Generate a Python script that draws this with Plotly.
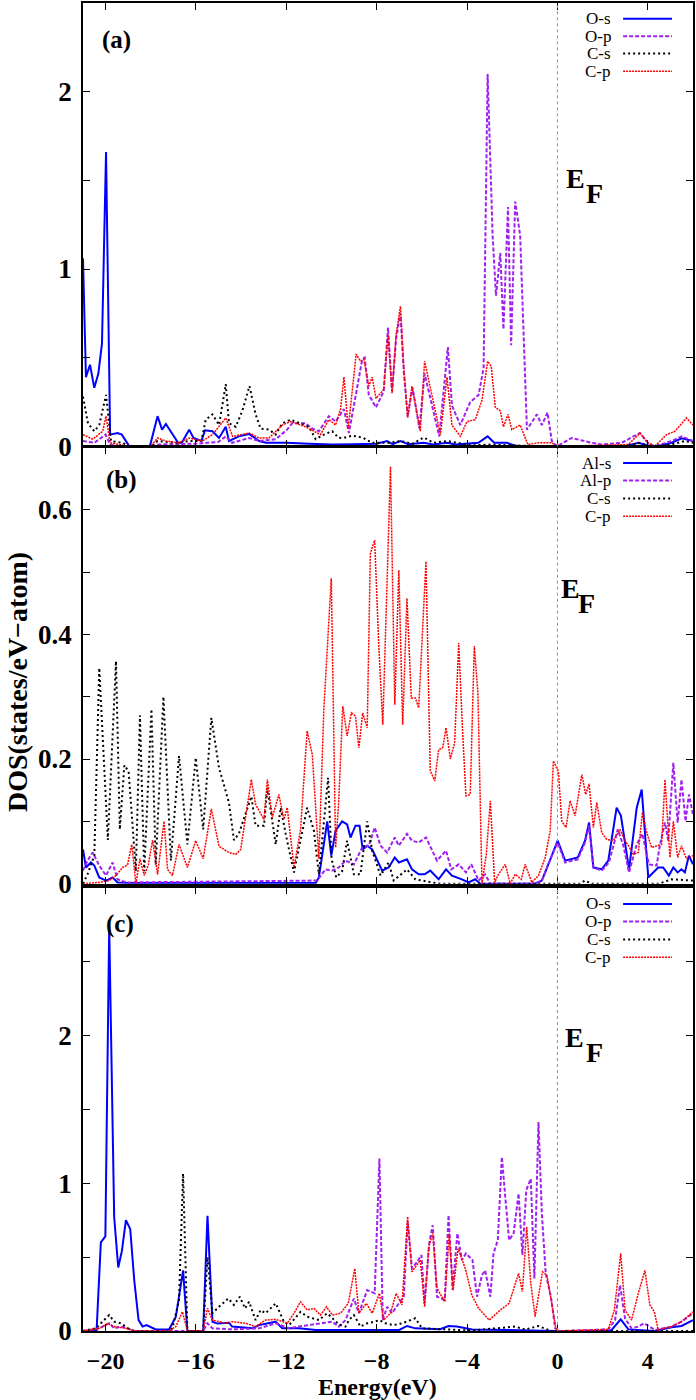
import plotly.graph_objects as go

# ---------------- panel (a): O-s, O-p, C-s, C-p ----------------
a_os_e = [-21.0, -20.87, -20.69, -20.5, -20.32, -20.16, -19.98, -19.8, -19.47, -19.28,
          -18.95, -18.04, -17.7, -17.5, -17.33, -16.79, -16.63, -16.3, -16.11, -15.76,
          -15.6, -15.27, -14.98, -14.68, -14.54, -14.1, -13.65, -13.2, -12.9, -12.0,
          -11.0, -9.97, -9.0, -8.0, -7.54, -7.3, -6.95, -6.6, -5.92, -5.5,
          -4.89, -4.5, -3.5, -3.09, -2.8, -2.6, -2.24, -1.9, -1.5, 0.0,
          3.0, 3.58, 4.0, 4.46, 5.05, 5.5, 6.0]
a_os = [1.06, 0.39, 0.46, 0.33, 0.41, 0.58, 1.66, 0.066, 0.075, 0.066,
        0.0, 0.0, 0.17, 0.094, 0.126, 0.02, 0.02, 0.094, 0.047, 0.03,
        0.09, 0.085, 0.047, 0.11, 0.03, 0.056, 0.07, 0.03, 0.02, 0.02,
        0.015, 0.01, 0.012, 0.015, 0.03, 0.012, 0.03, 0.012, 0.02, 0.01,
        0.02, 0.01, 0.02, 0.056, 0.02, 0.02, 0.02, 0.005, 0.0, 0.0,
        0.0, 0.02, 0.005, 0.0, 0.02, 0.045, 0.03]

a_op_e = [-21.0, -20.5, -20.0, -19.8, -19.5, -18.0, -17.7, -16.0, -15.0, -14.68,
          -14.4, -13.65, -13.2, -12.47, -12.0, -11.74, -11.15, -10.85, -10.56, -10.12,
          -9.82, -9.45, -9.23, -8.94, -8.64, -8.53, -8.35, -8.03, -7.69, -7.5,
          -7.32, -7.14, -6.95, -6.8, -6.63, -6.41, -6.11, -5.88, -5.48, -5.23,
          -4.85, -4.67, -4.3, -3.86, -3.49, -3.27, -3.09, -3.05, -2.87, -2.72,
          -2.53, -2.39, -2.19, -2.05, -1.87, -1.65, -1.35, -0.91, -0.69, -0.44,
          -0.25, -0.03, 0.63, 1.52, 1.96, 2.84, 3.65, 4.0, 4.3, 5.05,
          5.5, 6.0]
a_op = [0.03, 0.02, 0.066, 0.01, 0.0, 0.0, 0.01, 0.015, 0.025, 0.056,
        0.02, 0.047, 0.03, 0.04, 0.09, 0.13, 0.13, 0.10, 0.085, 0.17,
        0.14, 0.21, 0.075, 0.29, 0.49, 0.5, 0.29, 0.22, 0.31, 0.67,
        0.31, 0.61, 0.75, 0.42, 0.17, 0.33, 0.10, 0.41, 0.19, 0.056,
        0.56, 0.23, 0.12, 0.25, 0.29, 0.44, 2.10, 1.94, 1.19, 0.85,
        1.09, 0.66, 1.35, 0.57, 1.38, 1.19, 0.094, 0.18, 0.12, 0.19,
        0.03, 0.0, 0.047, 0.02, 0.01, 0.02, 0.075, 0.02, 0.0, 0.03,
        0.056, 0.03]

a_cs_e = [-21.0, -20.78, -20.5, -20.28, -19.98, -19.76, -19.25, -18.95, -18.0, -17.7,
          -16.9, -16.3, -15.76, -15.57, -15.27, -14.98, -14.68, -14.54, -14.24, -13.95,
          -13.63, -13.36, -13.14, -12.77, -12.47, -12.18, -11.81, -11.44, -11.0, -10.7,
          -10.34, -9.97, -9.68, -9.38, -9.09, -8.64, -8.2, -7.47, -6.95, -6.4,
          -5.92, -5.48, -4.89, -3.78, -3.05, -0.8, 3.0, 3.65, 4.1, 5.05,
          5.64, 6.0]
a_cs = [0.28, 0.13, 0.085, 0.12, 0.29, 0.03, 0.02, 0.0, 0.0, 0.03,
        0.02, 0.03, 0.03, 0.15, 0.18, 0.12, 0.35, 0.13, 0.11, 0.2,
        0.34, 0.18, 0.10, 0.094, 0.066, 0.13, 0.15, 0.13, 0.11, 0.04,
        0.066, 0.085, 0.047, 0.05, 0.06, 0.05, 0.02, 0.02, 0.03, 0.015,
        0.05, 0.02, 0.03, 0.005, 0.01, 0.0, 0.0, 0.02, 0.0, 0.01,
        0.03, 0.02]

a_cp_e = [-21.0, -20.57, -20.13, -19.98, -19.8, -18.95, -18.0, -17.7, -17.33, -16.75,
          -16.3, -15.72, -15.27, -14.68, -14.38, -13.95, -13.65, -13.21, -12.77, -12.18,
          -11.81, -11.15, -10.78, -10.49, -10.12, -9.82, -9.6, -9.45, -9.26, -8.91,
          -8.72, -8.57, -8.35, -8.2, -8.03, -7.69, -7.5, -7.32, -7.14, -6.95,
          -6.8, -6.63, -6.44, -6.07, -5.88, -5.48, -5.18, -4.89, -4.67, -4.3,
          -4.0, -3.64, -3.34, -3.09, -2.93, -2.75, -2.53, -2.39, -2.19, -2.02,
          -1.65, -1.31, -0.84, -0.25, 0.0, 3.14, 3.65, 4.0, 4.3, 4.83,
          5.2, 5.71, 6.0]
a_cp = [0.066, 0.04, 0.085, 0.17, 0.02, 0.0, 0.0, 0.047, 0.03, 0.02,
        0.047, 0.03, 0.066, 0.16, 0.056, 0.066, 0.075, 0.047, 0.047, 0.12,
        0.14, 0.11, 0.085, 0.066, 0.15, 0.12, 0.21, 0.39, 0.10, 0.52,
        0.48, 0.49, 0.34, 0.39, 0.27, 0.32, 0.63, 0.30, 0.63, 0.79,
        0.44, 0.16, 0.34, 0.085, 0.48, 0.25, 0.066, 0.39, 0.12, 0.056,
        0.14, 0.15, 0.26, 0.48, 0.45, 0.22, 0.2, 0.11, 0.18, 0.094,
        0.12, 0.01, 0.02, 0.02, 0.0, 0.01, 0.075, 0.02, 0.0, 0.066,
        0.085, 0.16, 0.12]

# ---------------- panel (b): Al-s, Al-p, C-s, C-p ----------------
b_als_e = [-21.0, -20.87, -20.65, -20.5, -20.28, -19.98, -19.69, -19.47, -19.0, -10.7,
           -10.56, -10.19, -10.01, -9.82, -9.53, -9.31, -9.16, -8.94, -8.76, -8.62,
           -8.42, -8.2, -7.76, -7.47, -7.2, -7.02, -6.66, -6.44, -6.14, -5.88,
           -5.63, -5.26, -4.93, -4.67, -4.23, -3.93, -3.64, -3.42, -1.0, -0.69,
           -0.25, 0.01, 0.34, 0.63, 0.9, 1.22, 1.4, 1.59, 1.96, 2.25,
           2.62, 2.81, 3.17, 3.51, 3.73, 4.02, 4.46, 4.68, 4.93, 5.13,
           5.32, 5.49, 5.64, 5.82, 6.0]
b_als = [0.055, 0.026, 0.034, 0.029, 0.01, 0.005, 0.01, 0.002, 0.001, 0.001,
         0.01, 0.1, 0.045, 0.085, 0.1, 0.095, 0.074, 0.093, 0.093, 0.055,
         0.061, 0.055, 0.021, 0.026, 0.042, 0.034, 0.039, 0.023, 0.015, 0.015,
         0.021, 0.007, 0.023, 0.013, 0.007, 0.002, 0.007, 0.0, 0.0, 0.005,
         0.045, 0.069, 0.037, 0.04, 0.042, 0.069, 0.098, 0.026, 0.023, 0.037,
         0.122, 0.109, 0.023, 0.122, 0.151, 0.01, 0.026, 0.026, 0.013, 0.026,
         0.018, 0.023, 0.018, 0.045, 0.031]

b_alp_e = [-21.0, -20.8, -20.57, -20.28, -19.98, -19.69, -19.47, -19.1, -10.63, -10.27,
           -9.97, -9.68, -9.38, -9.01, -8.64, -8.35, -8.09, -7.83, -7.54, -7.2,
           -7.02, -6.66, -6.44, -6.14, -5.82, -5.55, -5.33, -4.93, -4.7, -4.37,
           -4.05, -3.81, -3.49, -3.2, -2.97, -1.0, -0.69, -0.25, 0.01, 0.34,
           0.63, 0.9, 1.22, 1.4, 1.59, 1.96, 2.28, 2.67, 2.92, 3.17,
           3.51, 3.76, 4.05, 4.39, 4.54, 4.76, 4.9, 5.13, 5.32, 5.49,
           5.67, 5.82, 6.0]
b_alp = [0.021, 0.037, 0.05, 0.029, 0.013, 0.034, 0.007, 0.002, 0.005, 0.023,
         0.021, 0.026, 0.037, 0.031, 0.058, 0.061, 0.09, 0.061, 0.05, 0.074,
         0.061, 0.08, 0.069, 0.066, 0.074, 0.053, 0.037, 0.053, 0.023, 0.031,
         0.018, 0.031, 0.005, 0.015, 0.0, 0.0, 0.005, 0.045, 0.066, 0.034,
         0.037, 0.039, 0.066, 0.093, 0.026, 0.021, 0.034, 0.087, 0.061, 0.018,
         0.063, 0.08, 0.031, 0.029, 0.063, 0.098, 0.069, 0.194, 0.098, 0.167,
         0.1, 0.143, 0.111]

b_cs_e = [-21.0, -20.8, -20.5, -20.28, -19.9, -19.54, -19.37, -19.17, -18.98, -18.66,
          -18.48, -18.29, -17.97, -17.78, -17.44, -17.11, -16.75, -16.38, -16.01, -15.68,
          -15.32, -14.98, -14.54, -14.32, -14.1, -13.55, -13.36, -12.99, -12.84, -12.47,
          -12.25, -12.03, -11.66, -11.08, -10.78, -10.56, -10.15, -10.0, -9.79, -9.53,
          -9.31, -9.01, -8.72, -8.42, -8.2, -7.83, -7.47, -7.25, -6.66, -6.29,
          -5.55, -5.2, 1.0, 1.22, 1.5, 4.5, 5.05, 6.0]
b_cs = [0.0, 0.015, 0.045, 0.346, 0.07, 0.357, 0.087, 0.19, 0.18, 0.02,
        0.27, 0.02, 0.28, 0.03, 0.30, 0.037, 0.205, 0.063, 0.202, 0.087,
        0.266, 0.186, 0.13, 0.07, 0.08, 0.14, 0.093, 0.093, 0.154, 0.063,
        0.122, 0.08, 0.018, 0.122, 0.085, 0.015, 0.17, 0.04, 0.01, 0.02,
        0.069, 0.015, 0.015, 0.1, 0.053, 0.013, 0.034, 0.005, 0.023, 0.007,
        0.002, 0.0, 0.0, 0.005, 0.0, 0.0, 0.007, 0.005]

b_cp_e = [-21.0, -20.28, -19.84, -19.54, -19.25, -19.03, -18.84, -18.66, -18.48, -18.29,
          -18.11, -17.92, -17.7, -17.41, -17.26, -17.04, -16.75, -16.38, -16.01, -15.68,
          -15.32, -14.98, -14.54, -14.24, -14.02, -13.55, -13.36, -12.99, -12.84, -12.62,
          -12.33, -12.11, -11.96, -11.66, -11.37, -11.08, -10.85, -10.56, -10.34, -10.01,
          -9.82, -9.68, -9.5, -9.31, -9.12, -8.94, -8.79, -8.62, -8.42, -8.28,
          -8.09, -7.91, -7.73, -7.39, -7.2, -7.02, -6.85, -6.66, -6.47, -6.29,
          -6.14, -5.82, -5.63, -5.43, -5.26, -5.08, -4.93, -4.74, -4.55, -4.37,
          -4.2, -4.05, -3.86, -3.68, -3.52, -3.34, -3.15, -2.97, -2.78, -2.61,
          -2.31, -2.09, -1.87, -1.6, -1.43, -1.13, -0.84, -0.54, -0.32, -0.18,
          0.04, 0.19, 0.38, 0.56, 0.78, 1.08, 1.25, 1.4, 1.59, 1.74,
          1.96, 2.18, 2.47, 2.77, 2.99, 3.14, 3.36, 3.58, 3.76, 3.95,
          4.17, 4.39, 4.61, 4.76, 4.98, 5.13, 5.32, 5.49, 5.71, 6.0]
b_cp = [0.0, 0.002, 0.005, 0.013, 0.026, 0.03, 0.063, 0.0, 0.04, 0.013,
        0.03, 0.07, 0.015, 0.1, 0.023, 0.013, 0.063, 0.026, 0.069, 0.04,
        0.12, 0.06, 0.05, 0.047, 0.055, 0.167, 0.127, 0.103, 0.167, 0.106,
        0.143, 0.103, 0.122, 0.026, 0.087, 0.245, 0.207, 0.04, 0.28, 0.49,
        0.058, 0.133, 0.285, 0.237, 0.274, 0.269, 0.218, 0.274, 0.25, 0.53,
        0.551, 0.383, 0.255, 0.669, 0.287, 0.503, 0.255, 0.458, 0.298, 0.298,
        0.282, 0.517, 0.181, 0.165, 0.215, 0.218, 0.25, 0.2, 0.226, 0.386,
        0.245, 0.141, 0.143, 0.381, 0.306, 0.0, 0.047, 0.133, 0.002, 0.015,
        0.031, 0.0, 0.015, 0.007, 0.031, 0.002, 0.013, 0.042, 0.085, 0.197,
        0.18, 0.1, 0.09, 0.133, 0.109, 0.175, 0.143, 0.16, 0.09, 0.13,
        0.082, 0.071, 0.069, 0.087, 0.069, 0.061, 0.047, 0.05, 0.114, 0.082,
        0.058, 0.061, 0.063, 0.167, 0.042, 0.1, 0.042, 0.061, 0.04, 0.045]

# ---------------- panel (c): O-s, O-p, C-s, C-p ----------------
c_os_e = [-21.0, -20.4, -20.21, -20.01, -19.84, -19.62, -19.44, -19.28, -19.1, -18.91,
          -18.73, -18.54, -18.36, -18.19, -17.78, -17.19, -16.89, -16.57, -16.38, -15.68,
          -15.49, -15.27, -15.05, -14.54, -14.4, -13.5, -13.21, -12.47, -12.18, -11.44,
          -10.7, -9.23, -7.0, -6.66, -6.29, -5.2, -4.82, -4.45, -3.78, -0.1,
          2.2, 2.4, 2.8, 3.14, 3.58, 4.31, 5.05, 5.49, 6.0]
c_os = [0.0, 0.0, 0.6, 0.64, 2.74, 0.77, 0.43, 0.54, 0.75, 0.69,
        0.34, 0.074, 0.03, 0.04, 0.01, 0.01, 0.097, 0.41, 0.0, 0.0,
        0.78, 0.063, 0.05, 0.056, 0.03, 0.018, 0.04, 0.063, 0.018, 0.018,
        0.007, 0.007, 0.007, 0.034, 0.018, 0.012, 0.034, 0.03, 0.011, 0.0,
        0.0, 0.007, 0.079, 0.011, 0.007, 0.0, 0.025, 0.034, 0.074]

c_op_e = [-21.0, -20.28, -19.84, -19.62, -19.32, -19.03, -18.73, -15.68, -15.49, -15.27,
          -14.4, -13.21, -12.47, -11.88, -11.3, -10.56, -9.97, -9.68, -9.38, -9.01,
          -8.79, -8.42, -8.09, -7.88, -7.73, -7.54, -7.32, -7.02, -6.8, -6.63,
          -6.44, -6.21, -6.02, -5.88, -5.67, -5.52, -5.33, -4.99, -4.82, -4.64,
          -4.43, -4.23, -4.05, -3.76, -3.56, -3.34, -3.2, -2.97, -2.83, -2.64,
          -2.46, -2.31, -2.14, -1.94, -1.72, -1.55, -1.38, -1.18, -1.02, -0.84,
          -0.69, -0.52, -0.29, -0.1, 0.1, 2.25, 2.55, 2.77, 2.99, 3.28,
          3.58, 3.84, 4.09, 4.32, 5.05, 5.49, 6.0]
c_op = [0.0, 0.018, 0.052, 0.018, 0.03, 0.018, 0.0, 0.0, 0.052, 0.018,
        0.011, 0.018, 0.052, 0.018, 0.034, 0.052, 0.063, 0.03, 0.074, 0.22,
        0.12, 0.277, 0.255, 1.167, 0.074, 0.164, 0.12, 0.187, 0.232, 0.739,
        0.423, 0.468, 0.514, 0.187, 0.6, 0.716, 0.232, 0.21, 0.784, 0.277,
        0.66, 0.48, 0.525, 0.48, 0.232, 0.378, 0.41, 0.232, 0.525, 0.615,
        1.178, 0.908, 0.615, 0.66, 0.93, 0.514, 0.953, 1.03, 0.356, 1.414,
        0.795, 0.39, 0.232, 0.018, 0.0, 0.011, 0.074, 0.31, 0.086, 0.018,
        0.03, 0.052, 0.03, 0.007, 0.03, 0.063, 0.12]

c_cs_e = [-21.0, -20.43, -20.21, -19.84, -19.62, -19.32, -18.95, -18.7, -17.2, -17.04,
          -16.75, -16.57, -16.38, -15.68, -15.49, -15.27, -14.98, -14.57, -14.32, -14.06,
          -13.83, -13.65, -13.36, -13.14, -12.92, -12.47, -12.11, -11.88, -11.37, -11.08,
          -10.56, -10.19, -9.68, -9.38, -9.23, -9.01, -8.72, -8.42, -8.09, -7.88,
          -7.61, -7.25, -6.88, -6.29, -5.99, -5.2, -3.8, -1.87, -1.43, -0.84,
          -0.3, 6.0]
c_cs = [0.0, 0.018, 0.052, 0.108, 0.063, 0.052, 0.011, 0.0, 0.0, 0.018,
        0.21, 1.065, 0.0, 0.0, 0.5, 0.12, 0.164, 0.22, 0.176, 0.232,
        0.153, 0.198, 0.074, 0.142, 0.12, 0.187, 0.063, 0.04, 0.13, 0.097,
        0.074, 0.12, 0.045, 0.03, 0.074, 0.108, 0.03, 0.052, 0.063, 0.074,
        0.052, 0.04, 0.052, 0.086, 0.018, 0.011, 0.003, 0.03, 0.01, 0.034,
        0.0, 0.0]

c_cp_e = [-21.0, -20.28, -19.9, -19.62, -19.1, -18.73, -17.2, -16.89, -16.6, -16.38,
          -15.68, -15.49, -15.27, -14.68, -14.4, -13.8, -13.36, -12.92, -12.47, -11.96,
          -11.66, -11.37, -11.08, -10.78, -10.49, -10.22, -9.97, -9.6, -9.26, -8.97,
          -8.79, -8.46, -8.2, -7.88, -7.69, -7.39, -7.14, -6.88, -6.63, -6.44,
          -6.07, -5.88, -5.7, -5.52, -5.33, -4.99, -4.79, -4.62, -4.4, -4.08,
          -3.79, -3.49, -3.02, -2.53, -2.14, -1.72, -1.55, -1.36, -1.18, -0.99,
          -0.66, -0.47, -0.25, -0.07, 0.1, 2.25, 2.52, 2.8, 2.99, 3.28,
          3.58, 3.87, 4.09, 4.29, 4.46, 5.05, 5.49, 6.0]
c_cp = [0.0, 0.018, 0.052, 0.03, 0.018, 0.0, 0.0, 0.03, 0.13, 0.0,
        0.0, 0.153, 0.074, 0.052, 0.063, 0.052, 0.03, 0.074, 0.079, 0.052,
        0.12, 0.198, 0.142, 0.153, 0.108, 0.164, 0.108, 0.12, 0.187, 0.423,
        0.12, 0.187, 0.12, 0.255, 0.074, 0.12, 0.255, 0.176, 0.773, 0.4,
        0.48, 0.164, 0.57, 0.66, 0.288, 0.198, 0.66, 0.277, 0.558, 0.423,
        0.243, 0.153, 0.074, 0.142, 0.187, 0.39, 0.266, 0.705, 0.322, 0.097,
        0.4, 0.378, 0.187, 0.018, 0.0, 0.011, 0.142, 0.525, 0.142, 0.074,
        0.255, 0.41, 0.176, 0.13, 0.007, 0.03, 0.063, 0.13]

# legend names and tick labels
names_a = ["O-s", "O-p", "C-s", "C-p"]
names_b = ["Al-s", "Al-p", "C-s", "C-p"]
names_c = ["O-s", "O-p", "C-s", "C-p"]
x_ticks = [-20, -16, -12, -8, -4, 0, 4]
y_ticks_a = [0, 0.5, 1, 1.5, 2]
y_ticks_b = [0, 0.1, 0.2, 0.3, 0.4, 0.5, 0.6]
y_ticks_c = [0, 0.5, 1, 1.5, 2, 2.5]

# line styles: s solid blue, p dashed purple, C-s black dots, C-p fine red dots
styles = [
    dict(color="#0000ff", width=2, dash="solid"),
    dict(color="#a020f0", width=2, dash="4px,2px"),
    dict(color="black", width=2, dash="2px,3px"),
    dict(color="#ff0000", width=1.5, dash="2px,1px"),
]

W, H = 696, 1400
ML, MR, MT, MB = 83, 2, 1, 69
PW, PH = W - ML - MR, H - MT - MB


def px_x(px):
    return (px - ML) / PW


def px_y(py):
    return (H - MB - py) / PH


fig = go.Figure()

panels = [
    ("x", "y", [(a_os_e, a_os), (a_op_e, a_op), (a_cs_e, a_cs), (a_cp_e, a_cp)], names_a),
    ("x2", "y2", [(b_als_e, b_als), (b_alp_e, b_alp), (b_cs_e, b_cs), (b_cp_e, b_cp)], names_b),
    ("x3", "y3", [(c_os_e, c_os), (c_op_e, c_op), (c_cs_e, c_cs), (c_cp_e, c_cp)], names_c),
]

for xa, ya, series, names in panels:
    for (e, d), st, nm in zip(series, styles, names):
        fig.add_trace(go.Scatter(x=e, y=d, mode="lines", name=nm, line=st,
                                 xaxis=xa, yaxis=ya, showlegend=False))

serif = "Liberation Serif"
tick_font = dict(family=serif, size=27, color="black", weight="bold")

ax = dict(showline=True, mirror="ticks", linecolor="black", linewidth=1.5,
          ticks="inside", ticklen=7, tickwidth=1, tickcolor="black",
          showgrid=False, zeroline=False, tickfont=tick_font)

xax = dict(ax, range=[-21, 6], tickvals=x_ticks)


def ytext(vals, step):
    return [("%g" % v) if abs(v / step - round(v / step)) < 1e-6 else "" for v in vals]


fig.update_layout(
    width=W, height=H,
    margin=dict(l=ML, r=MR, t=MT, b=MB),
    paper_bgcolor="white", plot_bgcolor="white",
    showlegend=False,
    xaxis=dict(xax, anchor="y", showticklabels=False),
    xaxis2=dict(xax, anchor="y2", showticklabels=False),
    xaxis3=dict(xax, anchor="y3", ticklabelstandoff=7,
                tickfont=dict(tick_font, size=24)),
    yaxis=dict(ax, domain=[px_y(445), 1.0], range=[0, 2.5], anchor="x",
               tickvals=y_ticks_a, ticktext=ytext(y_ticks_a, 1), ticklabelstandoff=4),
    yaxis2=dict(ax, domain=[px_y(883), px_y(446)], range=[0, 0.7], anchor="x2",
                tickvals=y_ticks_b, ticktext=ytext(y_ticks_b, 0.2), ticklabelstandoff=4),
    yaxis3=dict(ax, domain=[0.0, px_y(887)], range=[0, 3.0], anchor="x3",
                tickvals=y_ticks_c, ticktext=ytext(y_ticks_c, 1), ticklabelstandoff=4),
)

# Fermi level dotted lines
for xa, ya in [("x", "y"), ("x2", "y2"), ("x3", "y3")]:
    fig.add_shape(type="line", x0=0, x1=0, y0=0, y1=1, xref=xa, yref=ya + " domain",
                  line=dict(color="#909090", width=1, dash="dot"))

# panel labels, E_F labels and custom legends
tags = [("(a)", 117, 38), ("(b)", 122, 479), ("(c)", 120, 923)]
ef_pos = [(576, 177, 595, 192), (571, 587, 587, 602), (575, 1037, 595, 1052)]
legend_rows = [[16.7, 34.3, 51.7, 69.3], [461.7, 479.3, 497.3, 515.0],
               [903.3, 921.0, 939.0, 956.7]]

bold = dict(family=serif, color="black", weight="bold")


def label(text, px, py, font, xanchor="center", angle=0):
    fig.add_annotation(text=text, x=px_x(px), y=px_y(py), xref="paper", yref="paper",
                       xanchor=xanchor, yanchor="middle", showarrow=False,
                       textangle=angle, font=font, borderpad=0)


for (tag, tx, ty), (ex, ey, fx, fy), rows, (_, _, _, names) in zip(tags, ef_pos, legend_rows, panels):
    label(tag, tx, ty, dict(bold, size=25))
    label("E", ex, ey, dict(bold, size=28))
    label("F", fx, fy, dict(bold, size=28))
    for ry, nm, st in zip(rows, names, styles):
        label(nm, 613, ry, dict(family=serif, size=17, color="black"), xanchor="right")
        fig.add_shape(type="line", x0=px_x(624), x1=px_x(673), y0=px_y(ry), y1=px_y(ry),
                      xref="paper", yref="paper", line=st)

# axis titles
label("Energy(eV)", 378, 1387, dict(bold, size=24))
label("DOS(states/eV\u2212atom)", 18, 681, dict(bold, size=28), angle=-90)

# the page body has a default 8px margin; remove it so the figure sits at the corner
fig.write_html("out.html", config={"displayModeBar": False},
               post_script="document.body.style.margin='0px';")
